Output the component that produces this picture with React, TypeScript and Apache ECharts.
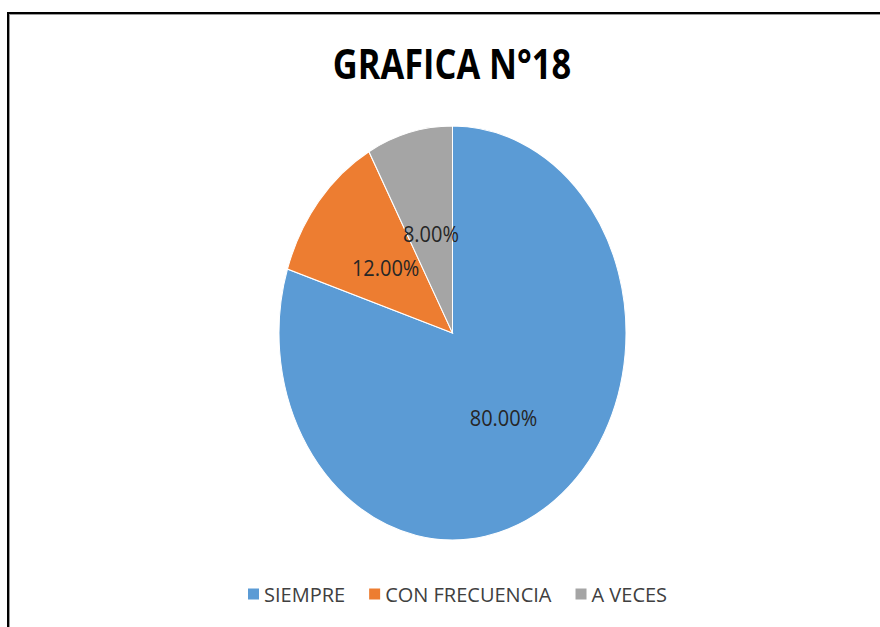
import React, { useEffect, useRef } from "react";
import * as echarts from "echarts";

const categories = ["SIEMPRE", "CON FRECUENCIA", "A VECES"];
const values = [80, 12, 8];
const labels = ["80.00%", "12.00%", "8.00%"];
const colors = ["#5B9BD5", "#ED7D31", "#A5A5A5"];
const titleText = "GRAFICA N°18";

export default function App() {
  const ref = useRef<HTMLDivElement>(null);
  useEffect(() => {
    document.body.style.margin = "0";
    const chart = echarts.init(ref.current!, null, { renderer: "svg" });
    const total = values.reduce((a, b) => a + b, 0);
    const cx = 452.5, cy = 333, rx = 173.5, ry = 207;
    const starts: number[] = [];
    let acc = 0;
    values.forEach((v) => { starts.push(acc); acc += v; });

    const series = categories.map((name, i) => ({
      type: "custom",
      name,
      coordinateSystem: "none",
      itemStyle: { color: colors[i] },
      data: [[values[i]]],
      renderItem: (params: any, api: any) => {
        const v = api.value(0);
        const a0 = -Math.PI / 2 + (starts[i] / total) * Math.PI * 2;
        const a1 = a0 + (v / total) * Math.PI * 2;
        const mid = (a0 + a1) / 2;
        return {
          type: "group",
          children: [
            {
              type: "sector",
              x: cx,
              y: cy,
              scaleY: ry / rx,
              shape: { cx: 0, cy: 0, r0: 0, r: rx, startAngle: a0, endAngle: a1, clockwise: true },
              style: { fill: colors[i], stroke: "#ffffff", lineWidth: 1, strokeNoScale: true },
            },
            {
              type: "text",
              x: cx + 0.5 * rx * Math.cos(mid),
              y: cy + 0.5 * ry * Math.sin(mid),
              scaleY: 1.12,
              style: {
                text: labels[i],
                fill: "#262626",
                font: "20px 'Open Sans'",
                align: "center",
                verticalAlign: "middle",
              },
            },
          ],
        };
      },
    }));

    chart.setOption({
      animation: false,
      backgroundColor: "#ffffff",
      legend: {
        data: categories,
        left: 243,
        top: 579,
        icon: "rect",
        itemWidth: 11,
        itemHeight: 11,
        itemGap: 24,
        textStyle: { fontSize: 20, color: "#404040", fontFamily: "Open Sans" },
      },
      graphic: [
        {
          type: "text",
          x: 452,
          y: 63,
          scaleX: 0.82,
          style: {
            text: titleText,
            font: "bold 42px 'Open Sans'",
            fill: "#000000",
            align: "center",
            verticalAlign: "middle",
          },
        },
        { type: "line", shape: { x1: 8, y1: 13, x2: 880, y2: 13 }, style: { stroke: "#000", lineWidth: 2 } },
        { type: "line", shape: { x1: 8, y1: 12, x2: 8, y2: 627 }, style: { stroke: "#000", lineWidth: 2 } },
        { type: "line", shape: { x1: 9, y1: 14.5, x2: 880, y2: 14.5 }, style: { stroke: "#999", lineWidth: 1 } },
        { type: "line", shape: { x1: 9.5, y1: 14, x2: 9.5, y2: 627 }, style: { stroke: "#999", lineWidth: 1 } },
      ],
      series,
    });
    return () => chart.dispose();
  }, []);
  return <div ref={ref} style={{ position: "fixed", left: 0, top: 0, width: 880, height: 627 }} />;
}
